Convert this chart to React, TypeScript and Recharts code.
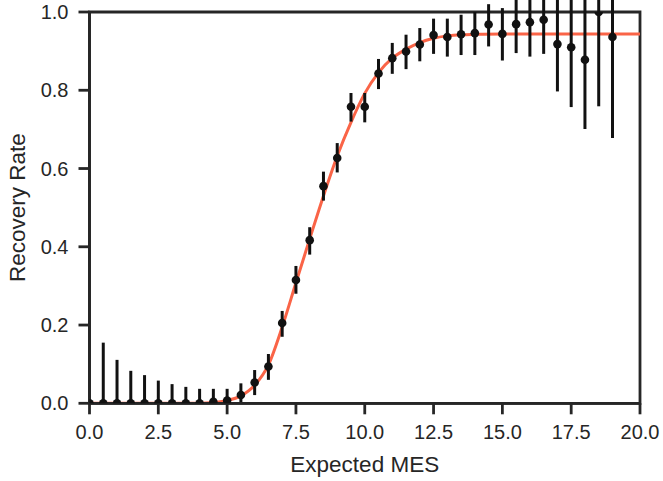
import React from 'react';
import { ComposedChart, Line, Scatter, ErrorBar, XAxis, YAxis, ReferenceArea } from 'recharts';

// Observed recovery rates
const mesX = [0, 0.5, 1, 1.5, 2, 2.5, 3, 3.5, 4, 4.5, 5, 5.5, 6, 6.5, 7, 7.5, 8, 8.5, 9, 9.5, 10, 10.5, 11, 11.5, 12, 12.5, 13, 13.5, 14, 14.5, 15, 15.5, 16, 16.5, 17, 17.5, 18, 18.5, 19];
const recovery = [0, 0, 0, 0, 0, 0, 0, 0, 0, 0.004, 0.007, 0.021, 0.053, 0.094, 0.205, 0.315, 0.417, 0.555, 0.627, 0.758, 0.758, 0.843, 0.882, 0.899, 0.917, 0.941, 0.936, 0.943, 0.946, 0.968, 0.944, 0.969, 0.974, 0.98, 0.918, 0.91, 0.878, 1.0, 0.936];
const lowerBound = [0, 0, 0, 0, 0, 0, 0, 0, 0, 0, 0, 0, 0.021, 0.06, 0.17, 0.28, 0.38, 0.518, 0.59, 0.72, 0.718, 0.803, 0.842, 0.854, 0.874, 0.893, 0.886, 0.89, 0.89, 0.912, 0.876, 0.895, 0.886, 0.893, 0.797, 0.757, 0.701, 0.759, 0.678];
const upperBound = [0, 0.155, 0.111, 0.083, 0.072, 0.058, 0.049, 0.042, 0.037, 0.037, 0.037, 0.051, 0.085, 0.126, 0.236, 0.351, 0.45, 0.592, 0.665, 0.793, 0.793, 0.88, 0.921, 0.942, 0.959, 0.983, 0.983, 0.993, 1.0, 1.02, 1.01, 1.04, 1.06, 1.07, 1.04, 1.06, 1.05, 1.24, 1.19];

// Fitted curve
const fitX = [0, 1, 2, 3, 3.5, 4, 4.5, 5, 5.5, 6, 6.5, 7, 7.5, 8, 8.5, 9, 9.5, 10, 10.5, 11, 11.5, 12, 12.5, 13, 13.5, 14, 15, 16, 18, 20];
const fitY = [0, 0, 0, 0, 0, 0, 0.002, 0.007, 0.019, 0.046, 0.098, 0.195, 0.308, 0.42, 0.53, 0.632, 0.718, 0.792, 0.845, 0.882, 0.905, 0.922, 0.933, 0.939, 0.942, 0.943, 0.944, 0.944, 0.944, 0.944];

const xTicks = [0, 2.5, 5, 7.5, 10, 12.5, 15, 17.5, 20];
const yTicks = [0, 0.2, 0.4, 0.6, 0.8, 1.0];

const points = mesX.map((x, i) => ({
  x,
  y: recovery[i],
  err: [recovery[i] - lowerBound[i], upperBound[i] - recovery[i]],
}));
const fit = fitX.map((x, i) => ({ x, y: fitY[i] }));

const FONT = '"Liberation Sans", Arial, Helvetica, sans-serif';
const INK = '#262626';

export default function App() {
  return (
    <div style={{ position: 'absolute', left: 0, top: 0, background: '#fff' }}>
      <ComposedChart width={663} height={481} margin={{ top: 12, right: 23, left: 9.5, bottom: 0 }}>
        <Line
          data={fit}
          dataKey="y"
          type="monotone"
          stroke="#fa6447"
          strokeWidth={3}
          dot={false}
          isAnimationActive={false}
        />
        <Scatter
          data={points}
          dataKey="y"
          isAnimationActive={false}
          shape={(p: any) => <circle cx={p.cx} cy={p.cy} r={4.3} fill="#111" />}
        >
          <ErrorBar dataKey="err" direction="y" width={0} stroke="#111" strokeWidth={3} />
        </Scatter>
        <ReferenceArea x1={0} x2={20} y1={0} y2={1} fill="none" stroke={INK} strokeWidth={2.8} />
        <XAxis
          type="number"
          dataKey="x"
          domain={[0, 20]}
          allowDataOverflow
          ticks={xTicks}
          tickFormatter={(v: number) => v.toFixed(1)}
          height={77.7}
          tickSize={11}
          tickMargin={10}
          stroke={INK}
          strokeWidth={2.8}
          tick={{ fill: INK, fontSize: 20, fontFamily: FONT }}
          label={{
            content: (props: any) => {
              const vb = props.viewBox || {};
              return (
                <text x={vb.x + vb.width / 2} y={vb.y + 68.7} textAnchor="middle" fill={INK} fontSize={22.5} fontFamily={FONT}>
                  Expected MES
                </text>
              );
            },
          }}
        />
        <YAxis
          type="number"
          domain={[0, 1]}
          allowDataOverflow
          ticks={yTicks}
          tickFormatter={(v: number) => v.toFixed(1)}
          width={80}
          tickSize={11}
          tickMargin={10}
          stroke={INK}
          strokeWidth={2.8}
          tick={{ fill: INK, fontSize: 20, fontFamily: FONT }}
          label={{
            content: (props: any) => {
              const vb = props.viewBox || {};
              const cx = vb.x + 15.5;
              const cy = vb.y + vb.height / 2;
              return (
                <text x={cx} y={cy} transform={`rotate(-90 ${cx} ${cy})`} textAnchor="middle" fill={INK} fontSize={22.5} fontFamily={FONT}>
                  Recovery Rate
                </text>
              );
            },
          }}
        />
      </ComposedChart>
    </div>
  );
}
